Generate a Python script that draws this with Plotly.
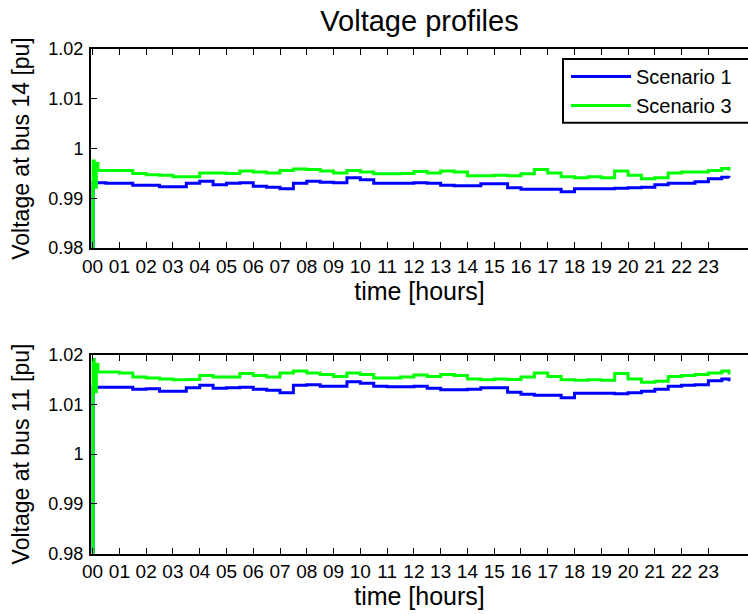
import plotly.graph_objects as go

# time in hours
time_h = [0.0, 0.02, 0.06, 0.12, 0.14, 0.2,
          0.5, 1.0, 1.5, 2.0, 2.5, 3.0, 3.5, 4.0, 4.5, 5.0, 5.5, 6.0,
          6.5, 7.0, 7.5, 8.0, 8.5, 9.0, 9.5, 10.0, 10.5, 11.0, 11.5, 12.0,
          12.5, 13.0, 13.5, 14.0, 14.5, 15.0, 15.5, 16.0, 16.5, 17.0, 17.5, 18.0,
          18.5, 19.0, 19.5, 20.0, 20.5, 21.0, 21.5, 22.0, 22.5, 23.0, 23.5, 23.77]

bus14_s1 = [0.980, 0.9931, 0.9931, 0.9931, 0.9931, 0.9931,
            0.9930, 0.9930, 0.9926, 0.9926, 0.9923, 0.9923, 0.9930, 0.9934, 0.9927, 0.9930, 0.9931, 0.9924,
            0.9922, 0.9919, 0.9930, 0.9934, 0.9932, 0.9931, 0.9941, 0.9937, 0.9930, 0.9930, 0.9930, 0.9931,
            0.9930, 0.9926, 0.9925, 0.9925, 0.9929, 0.9929, 0.9921, 0.9918, 0.9918, 0.9918, 0.9913, 0.9919,
            0.9919, 0.9919, 0.9920, 0.9921, 0.9922, 0.9927, 0.9930, 0.9930, 0.9933, 0.9939, 0.9942, 0.9941]

bus14_s3 = [0.980, 0.9975, 0.9932, 0.9922, 0.9970, 0.9956,
            0.9956, 0.9956, 0.9950, 0.9947, 0.9946, 0.9943, 0.9943, 0.9951, 0.9951, 0.9950, 0.9955, 0.9953,
            0.9951, 0.9956, 0.9959, 0.9958, 0.9955, 0.9951, 0.9956, 0.9953, 0.9949, 0.9949, 0.9950, 0.9954,
            0.9951, 0.9955, 0.9953, 0.9945, 0.9945, 0.9946, 0.9945, 0.9949, 0.9958, 0.9951, 0.9943, 0.9941,
            0.9943, 0.9941, 0.9955, 0.9946, 0.9939, 0.9941, 0.9951, 0.9953, 0.9953, 0.9956, 0.9960, 0.9956]

bus11_s1 = [0.980, 1.0134, 1.0134, 1.0134, 1.0134, 1.0134,
            1.0134, 1.0134, 1.0130, 1.0131, 1.0126, 1.0126, 1.0133, 1.0138, 1.0132, 1.0133, 1.0134, 1.0130,
            1.0128, 1.0123, 1.0138, 1.0139, 1.0136, 1.0136, 1.0145, 1.0142, 1.0136, 1.0135, 1.0135, 1.0136,
            1.0132, 1.0129, 1.0129, 1.0130, 1.0133, 1.0133, 1.0124, 1.0120, 1.0118, 1.0118, 1.0113, 1.0122,
            1.0122, 1.0122, 1.0121, 1.0123, 1.0126, 1.0130, 1.0136, 1.0138, 1.0139, 1.0147, 1.0151, 1.0146]

bus11_s3 = [0.980, 1.0190, 1.0140, 1.0125, 1.0180, 1.0165,
            1.0165, 1.0163, 1.0155, 1.0153, 1.0151, 1.0149, 1.0150, 1.0158, 1.0155, 1.0155, 1.0162, 1.0158,
            1.0155, 1.0163, 1.0167, 1.0163, 1.0160, 1.0156, 1.0163, 1.0160, 1.0153, 1.0153, 1.0155, 1.0159,
            1.0156, 1.0160, 1.0158, 1.0151, 1.0149, 1.0151, 1.0150, 1.0155, 1.0163, 1.0156, 1.0149, 1.0148,
            1.0149, 1.0148, 1.0162, 1.0151, 1.0144, 1.0146, 1.0156, 1.0158, 1.0160, 1.0163, 1.0167, 1.0160]

hour_ticks = list(range(24))
hour_labels = ["%02d" % h for h in hour_ticks]
y_ticks = [0.98, 0.99, 1.0, 1.01, 1.02]
y_labels = ["0.98", "0.99", "1", "1.01", "1.02"]

BLUE = "#0000FF"
GREEN = "#00FF00"
FONT = "Liberation Sans, Arial, sans-serif"

fig = go.Figure()
fig.add_trace(go.Scatter(x=time_h, y=bus14_s1, mode="lines", line=dict(color=BLUE, width=3, shape="hv"),
                         name="Scenario 1", xaxis="x", yaxis="y", legendgroup="a"))
fig.add_trace(go.Scatter(x=time_h, y=bus14_s3, mode="lines", line=dict(color=GREEN, width=3, shape="hv"),
                         name="Scenario 3", xaxis="x", yaxis="y", legendgroup="b"))
fig.add_trace(go.Scatter(x=time_h, y=bus11_s1, mode="lines", line=dict(color=BLUE, width=3, shape="hv"),
                         name="Scenario 1", xaxis="x2", yaxis="y2", showlegend=False))
fig.add_trace(go.Scatter(x=time_h, y=bus11_s3, mode="lines", line=dict(color=GREEN, width=3, shape="hv"),
                         name="Scenario 3", xaxis="x2", yaxis="y2", showlegend=False))

W, H = 748, 614
xdom = [91 / W, 1.0]
top_dom = [(H - 248) / H, (H - 49) / H]
bot_dom = [(H - 553.5) / H, (H - 354.5) / H]

xaxis_common = dict(
    range=[-0.06, 24.48], tickvals=hour_ticks, ticktext=hour_labels,
    ticks="inside", ticklen=6, tickwidth=1, tickcolor="black",
    showline=True, linecolor="black", linewidth=2, mirror="ticks",
    showgrid=False, zeroline=False, automargin=False,
    tickfont=dict(family=FONT, size=19, color="black"),
    title=dict(text="time [hours]", font=dict(family=FONT, size=25, color="black"), standoff=2),
    domain=xdom,
)
yaxis_common = dict(
    range=[0.98, 1.02], tickvals=y_ticks, ticktext=y_labels,
    ticks="inside", ticklen=6, tickwidth=1, tickcolor="black",
    showline=True, linecolor="black", linewidth=2, mirror=False,
    showgrid=False, zeroline=False, automargin=False, ticklabelstandoff=2,
    tickfont=dict(family=FONT, size=18, color="black"),
)

fig.update_layout(
    width=W, height=H,
    margin=dict(l=0, r=0, t=0, b=0),
    paper_bgcolor="white", plot_bgcolor="white",
    xaxis=dict(**xaxis_common, anchor="y"),
    xaxis2=dict(**xaxis_common, anchor="y2"),
    yaxis=dict(**yaxis_common, domain=top_dom, anchor="x",
               title=dict(text="Voltage at bus 14 [pu]", font=dict(family=FONT, size=23, color="black"), standoff=12)),
    yaxis2=dict(**yaxis_common, domain=bot_dom, anchor="x2",
                title=dict(text="Voltage at bus 11 [pu]", font=dict(family=FONT, size=23, color="black"), standoff=12)),
    title=dict(text="Voltage profiles", x=419.5 / W, xref="paper", xanchor="center",
               y=(H - 21) / H, yref="container", yanchor="middle",
               font=dict(family=FONT, size=29, color="black")),
    showlegend=True,
    legend=dict(x=566 / W, y=(H - 57) / H, xanchor="left", yanchor="top",
                bgcolor="rgba(0,0,0,0)", borderwidth=0, tracegroupgap=0, itemwidth=60,
                font=dict(family=FONT, size=20, color="black")),
    shapes=[dict(type="rect", xref="paper", yref="paper",
                 x0=563 / W, x1=1.02, y0=(H - 122.7) / H, y1=(H - 59) / H,
                 line=dict(color="black", width=2), fillcolor="white", layer="below")],
)

fig.write_html("out.html")
